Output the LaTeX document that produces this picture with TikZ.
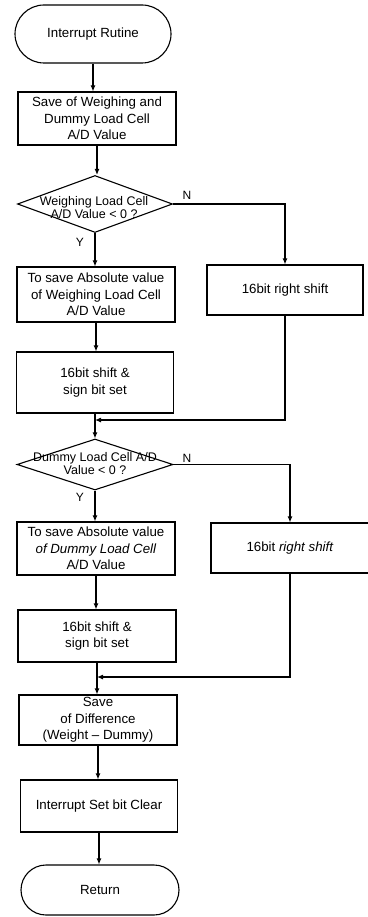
\documentclass[tikz,border=0pt]{standalone}
\usepackage{fontspec}
\setmainfont{Liberation Sans}
\usetikzlibrary{arrows.meta,shapes.geometric,shapes.misc}
\begin{document}
\begin{tikzpicture}[x=1pt,y=-1pt,
  every node/.style={font=\fontsize{13.3}{16.5}\selectfont},
  box/.style={draw, line width=1.1pt, align=center, inner sep=0pt},
  term/.style={draw, line width=1.1pt, rounded rectangle, inner sep=0pt},
  dia/.style={draw, line width=1.1pt, diamond, inner sep=0pt},
  dtext/.style={align=center, font=\fontsize{12.5}{13}\selectfont},
  yn/.style={font=\fontsize{12}{12}\selectfont},
  arr/.style={line width=1.1pt, -{Latex[length=6pt,width=5pt]}},
  ln/.style={line width=1.1pt}]
\useasboundingbox (0,0) rectangle (367,917);

\node[term, minimum width=156pt, minimum height=58pt] (start) at (93,34) {Interrupt Rutine};
\node[box, minimum width=158pt, minimum height=53pt] (b1) at (97,118.5) {Save of Weighing and\\Dummy Load Cell\\A/D Value};
\node[dia, minimum width=155pt, minimum height=57pt] (d1) at (95,204) {};
\node[dtext] (t1) at (94,208) {Weighing Load Cell\\A/D Value < 0 ?};
\node[yn] (y1) at (80,242) {Y};
\node[yn] (n1) at (187,195) {N};
\node[box, minimum width=158pt, minimum height=55pt] (b2) at (96,294.5) {To save Absolute value\\of Weighing Load Cell\\A/D Value};
\node[box, minimum width=156pt, minimum height=50pt] (r1) at (285,290) {16bit right shift};
\node[box, minimum width=157pt, minimum height=61pt] (b3) at (95,382.5) {16bit shift \&\\sign bit set};
\coordinate (m1) at (95,420);
\node[dia, minimum width=156pt, minimum height=51pt] (d2) at (95,464.5) {};
\node[dtext] (t2) at (95,464) {Dummy Load Cell A/D\\Value < 0 ?};
\node[yn] (y2) at (80,497) {Y};
\node[yn] (n2) at (187,458) {N};
\node[box, minimum width=158pt, minimum height=53pt] (b4) at (96,548.5) {To save Absolute value\\\textit{of Dummy Load Cell}\\A/D Value};
\node[box, minimum width=158pt, minimum height=50pt] (r2) at (290,548) {16bit \textit{right shift}};
\node[box, minimum width=158pt, minimum height=52pt] (b5) at (97,636) {16bit shift \&\\sign bit set};
\coordinate (m2) at (97,677);
\node[box, minimum width=158pt, minimum height=50pt] (b6) at (98,720) {Save\\of Difference\\(Weight -- Dummy)};
\node[box, minimum width=157pt, minimum height=52pt] (b7) at (99,806) {Interrupt Set bit Clear};
\node[term, minimum width=158pt, minimum height=50pt] (ret) at (100,890) {Return};

\draw[arr] (start.south) -- (start.south |- b1.north);
\draw[arr] (b1.south) -- (b1.south |- d1.north);
\draw[arr] (d1.south) -- (d1.south |- b2.north);
\draw[arr] (d1.east) -| (r1.north);
\draw[arr] (b2.south) -- (b2.south |- b3.north);
\draw[ln] (b3.south) -- (m1);
\draw[arr] (r1.south) |- (m1);
\draw[arr] (m1) -- (d2.north);
\draw[arr] (d2.south) -- (d2.south |- b4.north);
\draw[arr] (d2.east) -| (r2.north);
\draw[arr] (b4.south) -- (b4.south |- b5.north);
\draw[ln] (b5.south) -- (m2);
\draw[arr] (r2.south) |- (m2);
\draw[arr] (m2) -- (m2 |- b6.north);
\draw[arr] (b6.south) -- (b6.south |- b7.north);
\draw[arr] (b7.south) -- (b7.south |- ret.north);
\end{tikzpicture}
\end{document}
